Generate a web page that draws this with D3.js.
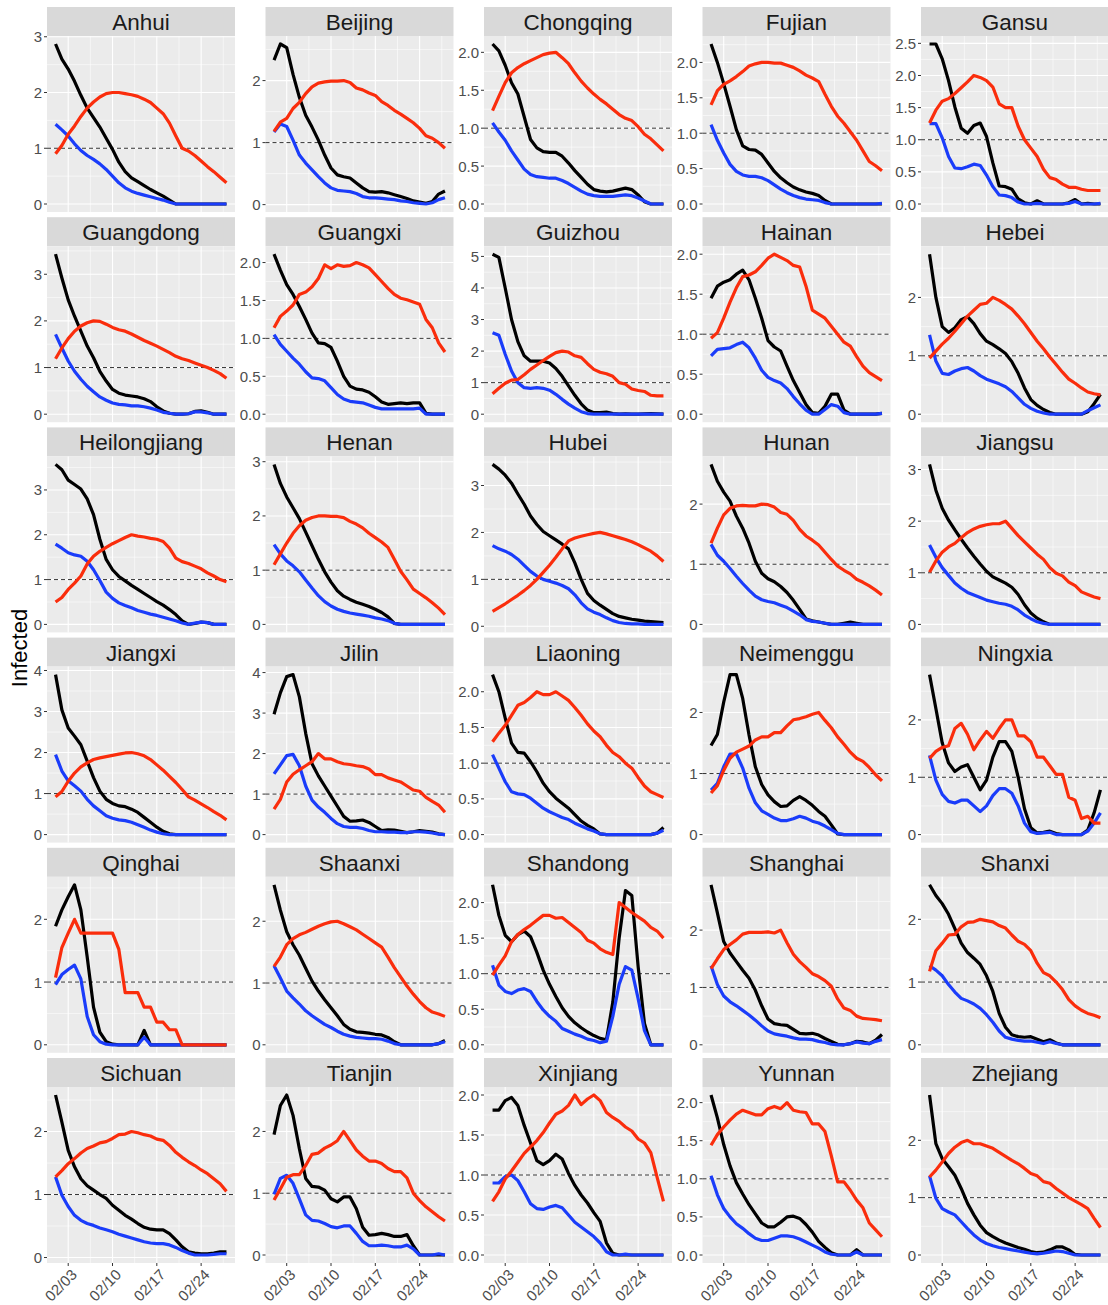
<!DOCTYPE html>
<html lang="en">
<head>
<meta charset="utf-8">
<title>Infected by province, February</title>
<script src="https://cdn.jsdelivr.net/npm/d3@7"></script>
<style>
  body { margin: 0; background: #fff; }
  svg text { font-family: "Liberation Sans", Arial, sans-serif; }
</style>
</head>
<body>
<script>
// days of the series (2020)
var days = ["02/01","02/02","02/03","02/04","02/05","02/06","02/07","02/08","02/09","02/10",
            "02/11","02/12","02/13","02/14","02/15","02/16","02/17","02/18","02/19","02/20",
            "02/21","02/22","02/23","02/24","02/25","02/26","02/27","02/28"];
var tickDays = ["02/03","02/10","02/17","02/24"];

var provinces = ["Anhui","Beijing","Chongqing","Fujian","Gansu",
                 "Guangdong","Guangxi","Guizhou","Hainan","Hebei",
                 "Heilongjiang","Henan","Hubei","Hunan","Jiangsu",
                 "Jiangxi","Jilin","Liaoning","Neimenggu","Ningxia",
                 "Qinghai","Shaanxi","Shandong","Shanghai","Shanxi",
                 "Sichuan","Tianjin","Xinjiang","Yunnan","Zhejiang"];

// y break step of each panel
var yStep = [1,1,0.5,0.5,0.5,
             1,0.5,1,0.5,1,
             1,1,1,1,1,
             1,1,0.5,1,1,
             1,1,0.5,1,1,
             1,1,0.5,0.5,1];

// black series, one row per province (same order)
var black = [
  [2.87,2.6,2.42,2.2,1.95,1.72,1.55,1.38,1.18,0.98,0.75,0.58,0.47,0.4,0.33,0.26,0.2,0.14,0.07,0,0,0,0,0,0,0,0,0], // Anhui
  [2.33,2.59,2.53,2.1,1.73,1.44,1.25,1.04,0.8,0.59,0.48,0.45,0.43,0.35,0.27,0.21,0.2,0.21,0.19,0.16,0.13,0.1,0.06,0.04,0.02,0.05,0.17,0.22], // Beijing
  [2.11,2.02,1.83,1.6,1.45,1.15,0.85,0.74,0.69,0.68,0.68,0.63,0.54,0.44,0.35,0.26,0.19,0.17,0.16,0.17,0.19,0.21,0.19,0.12,0.03,0,0,0], // Chongqing
  [2.26,2.0,1.7,1.38,1.05,0.82,0.77,0.76,0.7,0.58,0.46,0.37,0.3,0.24,0.2,0.17,0.15,0.12,0.05,0,0,0,0,0,0,0,0,0], // Fujian
  [2.49,2.49,2.26,1.92,1.51,1.18,1.1,1.22,1.26,1.05,0.64,0.28,0.27,0.23,0.08,0.02,0,0.05,0,0,0,0,0.02,0.07,0,0.01,0,0], // Gansu
  [3.43,2.92,2.45,2.1,1.78,1.46,1.21,0.92,0.71,0.53,0.45,0.41,0.39,0.37,0.33,0.27,0.16,0.07,0.02,0,0,0.01,0.06,0.07,0.04,0,0,0], // Guangdong
  [2.11,1.9,1.71,1.58,1.42,1.25,1.07,0.94,0.93,0.88,0.7,0.5,0.37,0.33,0.32,0.29,0.23,0.16,0.13,0.14,0.15,0.14,0.15,0.15,0.01,0,0,0], // Guangxi
  [5.07,4.97,4.0,3.0,2.3,1.85,1.68,1.68,1.68,1.62,1.45,1.2,0.9,0.6,0.33,0.13,0.05,0.05,0.07,0.02,0,0.01,0,0,0.01,0.02,0.01,0], // Guizhou
  [1.45,1.6,1.65,1.68,1.75,1.8,1.68,1.45,1.2,0.92,0.84,0.79,0.6,0.42,0.27,0.12,0.02,0.01,0.1,0.25,0.25,0.05,0,0,0,0,0,0.01], // Hainan
  [2.74,2.0,1.5,1.4,1.48,1.62,1.67,1.55,1.38,1.25,1.19,1.12,1.04,0.9,0.7,0.45,0.25,0.15,0.08,0.03,0,0,0,0,0,0.04,0.18,0.34], // Hebei
  [3.57,3.45,3.22,3.12,3.02,2.8,2.45,1.9,1.45,1.22,1.07,0.97,0.87,0.78,0.69,0.6,0.51,0.43,0.33,0.22,0.08,0,0.02,0.05,0.04,0,0,0], // Heilongjiang
  [2.95,2.6,2.35,2.15,1.95,1.7,1.45,1.2,0.97,0.78,0.62,0.52,0.46,0.41,0.37,0.33,0.28,0.22,0.14,0.02,0,0,0,0,0,0,0,0], // Henan
  [3.45,3.35,3.22,3.05,2.82,2.6,2.35,2.17,2.02,1.93,1.84,1.75,1.65,1.35,1.0,0.7,0.55,0.45,0.36,0.27,0.21,0.18,0.15,0.13,0.11,0.1,0.09,0.08], // Hubei
  [2.66,2.38,2.2,2.05,1.8,1.6,1.35,1.05,0.85,0.76,0.71,0.63,0.53,0.4,0.25,0.09,0.06,0.04,0.02,0,0,0.02,0.04,0.02,0,0,0,0], // Hunan
  [3.1,2.6,2.25,2.02,1.83,1.65,1.48,1.32,1.17,1.03,0.92,0.86,0.8,0.72,0.58,0.38,0.22,0.12,0.05,0,0,0,0,0,0,0,0,0], // Jiangsu
  [3.9,3.04,2.6,2.4,2.19,1.79,1.39,1.06,0.86,0.76,0.7,0.68,0.62,0.54,0.42,0.3,0.18,0.08,0.02,0,0,0,0,0,0,0,0,0], // Jiangxi
  [2.97,3.5,3.9,3.95,3.4,2.5,1.75,1.45,1.2,0.95,0.7,0.45,0.33,0.34,0.36,0.3,0.2,0.1,0.12,0.11,0.08,0.05,0.07,0.1,0.08,0.06,0.02,0], // Jilin
  [2.24,2.0,1.63,1.28,1.15,1.14,1.02,0.88,0.72,0.6,0.51,0.44,0.37,0.28,0.19,0.13,0.08,0.01,0,0,0,0,0,0,0,0,0.02,0.1], // Liaoning
  [1.46,1.64,2.17,2.62,2.62,2.23,1.63,1.11,0.82,0.65,0.54,0.46,0.47,0.56,0.62,0.56,0.48,0.38,0.3,0.16,0.01,0,0,0,0,0,0,0], // Neimenggu
  [2.79,2.2,1.6,1.25,1.1,1.18,1.22,1.0,0.78,0.95,1.35,1.62,1.62,1.45,1.0,0.45,0.12,0.03,0.04,0.06,0.02,0,0,0,0,0.08,0.38,0.78], // Ningxia
  [1.89,2.15,2.36,2.55,2.15,1.4,0.6,0.2,0.05,0.01,0,0,0,0,0.23,0,0,0,0,0,0,0,0,0,0,0,0,0], // Qinghai
  [2.59,2.18,1.83,1.62,1.45,1.24,1.03,0.87,0.73,0.6,0.47,0.33,0.25,0.21,0.2,0.19,0.17,0.16,0.12,0.05,0,0,0,0,0,0,0.02,0.07], // Shaanxi
  [2.25,1.82,1.54,1.45,1.55,1.6,1.52,1.3,1.05,0.85,0.68,0.52,0.4,0.31,0.24,0.18,0.13,0.09,0.07,0.6,1.5,2.17,2.1,1.1,0.3,0,0,0], // Shandong
  [2.79,2.3,1.8,1.6,1.45,1.3,1.16,0.95,0.68,0.45,0.37,0.35,0.34,0.27,0.2,0.19,0.2,0.17,0.11,0.06,0.01,0,0.02,0.06,0.05,0.02,0.08,0.18], // Shanghai
  [2.55,2.38,2.25,2.08,1.85,1.62,1.47,1.38,1.28,1.1,0.85,0.5,0.28,0.16,0.13,0.12,0.13,0.09,0.05,0.08,0.03,0,0,0,0,0,0,0], // Shanxi
  [2.58,2.15,1.7,1.44,1.25,1.14,1.07,1.0,0.94,0.83,0.75,0.67,0.61,0.54,0.48,0.45,0.44,0.44,0.38,0.28,0.17,0.09,0.07,0.06,0.06,0.07,0.09,0.09], // Sichuan
  [1.95,2.42,2.59,2.26,1.72,1.24,1.11,1.1,1.05,0.91,0.86,0.94,0.94,0.75,0.45,0.32,0.33,0.35,0.33,0.3,0.3,0.33,0.15,0,0,0,0,0], // Tianjin
  [1.81,1.81,1.93,1.97,1.87,1.62,1.4,1.18,1.13,1.18,1.26,1.2,1.02,0.87,0.75,0.65,0.53,0.42,0.15,0.02,0,0,0,0,0,0,0,0], // Xinjiang
  [2.1,1.8,1.45,1.17,0.95,0.8,0.66,0.54,0.42,0.37,0.37,0.43,0.5,0.51,0.48,0.4,0.3,0.18,0.1,0.03,0,0,0,0.07,0,0,0,0], // Yunnan
  [2.79,1.94,1.68,1.54,1.39,1.16,0.9,0.7,0.52,0.39,0.32,0.26,0.21,0.17,0.13,0.1,0.06,0.04,0.05,0.09,0.14,0.14,0.09,0.01,0,0,0,0]  // Zhejiang
];

// blue series
var blue = [
  [1.43,1.33,1.22,1.08,0.96,0.87,0.8,0.72,0.62,0.5,0.38,0.29,0.23,0.19,0.16,0.13,0.1,0.07,0.03,0,0,0,0,0,0,0,0,0], // Anhui
  [1.17,1.3,1.26,1.04,0.8,0.67,0.56,0.45,0.35,0.27,0.23,0.22,0.21,0.18,0.13,0.11,0.11,0.1,0.09,0.08,0.06,0.05,0.03,0.02,0.01,0.03,0.08,0.11], // Beijing
  [1.07,0.95,0.84,0.7,0.58,0.46,0.39,0.36,0.35,0.34,0.34,0.31,0.27,0.22,0.17,0.13,0.11,0.1,0.1,0.1,0.11,0.12,0.11,0.08,0.04,0,0,0], // Chongqing
  [1.12,0.9,0.72,0.56,0.46,0.41,0.39,0.39,0.37,0.33,0.27,0.21,0.16,0.12,0.09,0.07,0.06,0.05,0.02,0,0,0,0,0,0,0,0,0.01], // Fujian
  [1.25,1.25,1.03,0.74,0.56,0.55,0.58,0.62,0.6,0.45,0.27,0.14,0.13,0.1,0.03,0,0,0.01,0,0,0,0,0.01,0.04,0,0,0,0.01], // Gansu
  [1.71,1.42,1.14,0.92,0.75,0.6,0.48,0.37,0.3,0.24,0.21,0.2,0.18,0.18,0.16,0.13,0.09,0.04,0.02,0,0,0.01,0.05,0.05,0.03,0,0,0], // Guangdong
  [1.05,0.92,0.83,0.74,0.66,0.56,0.48,0.47,0.44,0.35,0.26,0.2,0.17,0.16,0.15,0.12,0.09,0.07,0.07,0.07,0.07,0.07,0.07,0.08,0,0,0,0], // Guangxi
  [2.58,2.5,1.9,1.37,1.0,0.84,0.82,0.84,0.82,0.76,0.63,0.47,0.32,0.19,0.08,0.02,0,0,0,0,0,0,0,0,0,0,0,0], // Guizhou
  [0.73,0.81,0.82,0.83,0.87,0.9,0.83,0.7,0.55,0.46,0.42,0.39,0.32,0.22,0.13,0.05,0,0,0.06,0.12,0.1,0.02,0,0,0,0,0,0.01], // Hainan
  [1.36,0.91,0.7,0.68,0.74,0.78,0.8,0.74,0.66,0.6,0.56,0.52,0.47,0.39,0.28,0.17,0.1,0.05,0.02,0,0,0,0,0,0,0.06,0.11,0.16], // Hebei
  [1.79,1.7,1.6,1.55,1.52,1.41,1.22,0.98,0.72,0.58,0.48,0.42,0.37,0.31,0.27,0.23,0.2,0.16,0.12,0.08,0.03,0,0.03,0.05,0.04,0,0,0], // Heilongjiang
  [1.47,1.3,1.17,1.08,0.97,0.82,0.67,0.53,0.42,0.34,0.28,0.24,0.21,0.19,0.17,0.15,0.12,0.1,0.07,0.02,0,0,0,0,0,0,0,0], // Henan
  [1.72,1.65,1.6,1.53,1.43,1.3,1.17,1.07,1.0,0.96,0.92,0.87,0.8,0.67,0.5,0.37,0.3,0.25,0.18,0.12,0.08,0.06,0.05,0.05,0.04,0.04,0.04,0.04], // Hubei
  [1.33,1.15,1.05,0.93,0.8,0.68,0.57,0.47,0.41,0.38,0.36,0.32,0.28,0.22,0.16,0.08,0.05,0.04,0.02,0,0,0,0,0,0,0,0,0], // Hunan
  [1.54,1.3,1.1,0.95,0.8,0.7,0.62,0.57,0.52,0.47,0.44,0.41,0.39,0.35,0.28,0.18,0.11,0.05,0.02,0,0,0,0,0,0,0,0,0], // Jiangsu
  [1.95,1.55,1.31,1.19,1.06,0.86,0.7,0.58,0.46,0.4,0.36,0.34,0.3,0.24,0.18,0.11,0.06,0.02,0,0,0,0,0,0,0,0,0,0], // Jiangxi
  [1.5,1.72,1.95,1.98,1.7,1.2,0.85,0.68,0.55,0.4,0.27,0.2,0.18,0.18,0.15,0.1,0.07,0.07,0.06,0.06,0.05,0.05,0.07,0.07,0.06,0.04,0.01,0], // Jilin
  [1.12,0.93,0.74,0.6,0.57,0.56,0.51,0.44,0.37,0.32,0.28,0.24,0.21,0.16,0.12,0.08,0.05,0.01,0,0,0,0,0,0,0,0,0.02,0.06], // Liaoning
  [0.73,0.84,1.11,1.32,1.32,1.09,0.76,0.52,0.39,0.33,0.27,0.23,0.23,0.26,0.3,0.27,0.22,0.19,0.14,0.08,0.02,0,0,0,0,0,0,0], // Neimenggu
  [1.38,0.95,0.7,0.58,0.55,0.6,0.6,0.5,0.4,0.5,0.68,0.8,0.8,0.72,0.5,0.2,0.05,0.02,0.03,0.04,0,0,0,0,0,0.06,0.2,0.38], // Ningxia
  [0.96,1.12,1.2,1.27,1.05,0.45,0.16,0.05,0.01,0,0,0,0,0,0.12,0,0,0,0,0,0,0,0,0,0,0,0,0], // Qinghai
  [1.28,1.08,0.87,0.76,0.66,0.55,0.47,0.4,0.33,0.28,0.22,0.17,0.14,0.12,0.11,0.1,0.1,0.09,0.06,0.02,0,0,0,0,0,0,0.02,0.05], // Shaanxi
  [1.12,0.84,0.75,0.72,0.77,0.79,0.75,0.61,0.49,0.4,0.33,0.23,0.19,0.15,0.12,0.08,0.06,0.03,0.05,0.4,0.85,1.1,1.05,0.65,0.2,0,0,0], // Shandong
  [1.38,1.05,0.85,0.75,0.68,0.6,0.52,0.43,0.33,0.24,0.19,0.17,0.15,0.12,0.1,0.1,0.09,0.06,0.04,0.01,0,0,0.02,0.05,0.03,0.02,0.06,0.09], // Shanghai
  [1.26,1.19,1.1,0.96,0.84,0.74,0.7,0.65,0.58,0.48,0.36,0.22,0.12,0.09,0.07,0.06,0.06,0.04,0.02,0.05,0.02,0,0,0,0,0,0,0], // Shanxi
  [1.28,0.99,0.81,0.67,0.59,0.54,0.51,0.47,0.44,0.41,0.37,0.34,0.31,0.28,0.25,0.23,0.22,0.22,0.2,0.16,0.11,0.07,0.04,0.04,0.04,0.05,0.06,0.06], // Sichuan
  [0.98,1.24,1.29,1.16,0.91,0.65,0.56,0.55,0.51,0.46,0.44,0.47,0.47,0.35,0.22,0.15,0.15,0.16,0.15,0.13,0.13,0.16,0.1,0,0,0,0.02,0], // Tianjin
  [0.9,0.9,0.98,1.0,0.93,0.79,0.64,0.58,0.57,0.6,0.62,0.59,0.5,0.41,0.35,0.29,0.23,0.15,0.04,0,0,0.01,0,0,0,0,0,0], // Xinjiang
  [1.04,0.79,0.61,0.5,0.41,0.35,0.28,0.22,0.19,0.19,0.22,0.25,0.25,0.24,0.21,0.17,0.13,0.09,0.04,0.01,0,0,0,0.04,0,0,0,0], // Yunnan
  [1.38,0.99,0.81,0.75,0.7,0.58,0.46,0.35,0.26,0.2,0.16,0.13,0.11,0.09,0.07,0.05,0.03,0.02,0.03,0.05,0.07,0.06,0.03,0,0,0,0,0]  // Zhejiang
];

// red series
var red = [
  [0.9,1.05,1.25,1.4,1.57,1.72,1.83,1.92,1.98,2.0,2.0,1.98,1.96,1.93,1.88,1.82,1.72,1.62,1.45,1.22,1.0,0.95,0.87,0.77,0.67,0.58,0.48,0.38], // Anhui
  [1.18,1.33,1.39,1.55,1.65,1.79,1.9,1.96,1.98,1.99,1.99,2.0,1.97,1.88,1.85,1.8,1.76,1.66,1.6,1.52,1.46,1.39,1.32,1.23,1.11,1.07,1.0,0.91], // Beijing
  [1.23,1.42,1.6,1.73,1.8,1.85,1.89,1.93,1.97,1.99,2.0,1.93,1.85,1.73,1.62,1.53,1.45,1.38,1.32,1.25,1.18,1.13,1.1,1.02,0.92,0.86,0.78,0.7], // Chongqing
  [1.4,1.6,1.69,1.74,1.8,1.87,1.95,1.98,2.0,2.0,1.99,1.99,1.96,1.93,1.88,1.82,1.78,1.73,1.55,1.38,1.24,1.14,1.02,0.9,0.75,0.6,0.54,0.47], // Fujian
  [1.26,1.46,1.6,1.64,1.72,1.81,1.9,2.0,1.97,1.92,1.82,1.56,1.5,1.5,1.21,1.0,0.87,0.74,0.54,0.41,0.38,0.31,0.26,0.26,0.23,0.21,0.21,0.21], // Gansu
  [1.19,1.42,1.62,1.78,1.89,1.96,2.0,1.99,1.93,1.86,1.81,1.78,1.72,1.65,1.58,1.52,1.46,1.39,1.32,1.24,1.19,1.15,1.1,1.05,1.0,0.94,0.87,0.77], // Guangdong
  [1.14,1.29,1.36,1.44,1.58,1.61,1.68,1.79,1.97,1.92,1.97,1.95,1.96,2.0,1.97,1.93,1.84,1.75,1.66,1.58,1.53,1.51,1.48,1.45,1.25,1.14,0.94,0.82], // Guangxi
  [0.65,0.82,0.98,1.08,1.1,1.25,1.42,1.56,1.7,1.83,1.95,2.0,1.97,1.85,1.8,1.6,1.42,1.33,1.28,1.2,1.0,0.95,0.8,0.75,0.72,0.6,0.58,0.58], // Guizhou
  [0.95,1.02,1.2,1.4,1.58,1.72,1.74,1.78,1.86,1.95,2.0,1.96,1.92,1.86,1.84,1.6,1.3,1.25,1.2,1.1,1.0,0.9,0.85,0.72,0.6,0.52,0.47,0.42], // Hainan
  [0.96,1.08,1.2,1.3,1.42,1.55,1.68,1.78,1.88,1.9,2.0,1.95,1.88,1.8,1.68,1.55,1.4,1.25,1.12,0.98,0.85,0.72,0.6,0.53,0.45,0.38,0.35,0.33], // Hebei
  [0.5,0.6,0.78,0.92,1.08,1.35,1.52,1.63,1.72,1.8,1.87,1.94,2.0,1.97,1.95,1.92,1.9,1.85,1.7,1.48,1.4,1.36,1.3,1.24,1.15,1.08,1.0,0.95], // Heilongjiang
  [1.1,1.3,1.5,1.68,1.82,1.92,1.97,2.0,2.0,1.99,1.99,1.97,1.9,1.85,1.78,1.68,1.6,1.52,1.42,1.2,0.98,0.82,0.65,0.57,0.49,0.4,0.3,0.18], // Henan
  [0.32,0.4,0.48,0.57,0.66,0.76,0.87,1.0,1.15,1.3,1.47,1.65,1.82,1.88,1.92,1.95,1.98,2.0,1.97,1.93,1.89,1.85,1.8,1.74,1.67,1.6,1.5,1.38], // Hubei
  [1.35,1.6,1.82,1.93,1.97,1.98,1.97,1.97,2.0,1.99,1.95,1.86,1.83,1.73,1.58,1.47,1.4,1.32,1.2,1.08,0.97,0.9,0.84,0.75,0.7,0.64,0.57,0.49], // Hunan
  [1.01,1.23,1.4,1.5,1.57,1.68,1.78,1.85,1.9,1.93,1.95,1.95,2.0,1.86,1.72,1.6,1.48,1.36,1.26,1.1,0.99,0.94,0.82,0.75,0.63,0.58,0.53,0.5], // Jiangsu
  [0.92,1.05,1.3,1.5,1.65,1.75,1.83,1.87,1.9,1.93,1.96,1.99,2.0,1.97,1.92,1.83,1.7,1.57,1.42,1.27,1.1,0.92,0.84,0.75,0.66,0.56,0.47,0.36], // Jiangxi
  [0.63,0.87,1.3,1.49,1.6,1.7,1.8,2.0,1.87,1.87,1.8,1.75,1.73,1.7,1.68,1.62,1.48,1.48,1.4,1.35,1.3,1.2,1.1,1.07,0.92,0.82,0.73,0.55], // Jilin
  [1.3,1.42,1.53,1.67,1.81,1.85,1.92,2.0,1.96,1.96,2.0,1.94,1.88,1.78,1.67,1.55,1.45,1.37,1.25,1.15,1.09,1.0,0.93,0.8,0.68,0.6,0.56,0.52], // Liaoning
  [0.68,0.8,1.05,1.25,1.35,1.4,1.45,1.55,1.6,1.6,1.67,1.67,1.78,1.88,1.9,1.93,1.97,2.0,1.87,1.75,1.6,1.48,1.35,1.25,1.2,1.1,0.98,0.88], // Neimenggu
  [1.33,1.45,1.52,1.55,1.85,1.94,1.75,1.48,1.65,1.8,1.68,1.85,2.0,2.0,1.72,1.72,1.62,1.35,1.35,1.2,1.05,1.05,0.65,0.6,0.28,0.32,0.2,0.2], // Ningxia
  [1.07,1.55,1.78,2.0,1.78,1.78,1.78,1.78,1.78,1.78,1.52,0.83,0.83,0.83,0.6,0.6,0.36,0.36,0.24,0.24,0,0,0,0,0,0,0,0], // Qinghai
  [1.27,1.42,1.62,1.72,1.78,1.82,1.87,1.92,1.96,1.99,2.0,1.96,1.91,1.86,1.79,1.72,1.65,1.58,1.42,1.25,1.1,0.95,0.82,0.7,0.6,0.53,0.5,0.46], // Shaanxi
  [0.98,1.12,1.25,1.45,1.55,1.62,1.68,1.75,1.82,1.82,1.78,1.79,1.72,1.65,1.58,1.47,1.43,1.35,1.3,1.27,2.0,1.93,1.86,1.8,1.74,1.65,1.6,1.5], // Shandong
  [1.33,1.5,1.66,1.75,1.83,1.93,1.96,1.96,1.96,1.97,1.95,2.0,1.78,1.58,1.45,1.35,1.24,1.19,1.12,1.02,0.8,0.64,0.6,0.5,0.46,0.45,0.44,0.42], // Shanghai
  [1.17,1.5,1.62,1.75,1.76,1.88,1.95,1.96,2.0,1.98,1.96,1.9,1.86,1.75,1.65,1.6,1.5,1.3,1.15,1.1,1.0,0.88,0.72,0.62,0.55,0.5,0.47,0.43], // Shanxi
  [1.28,1.38,1.49,1.57,1.66,1.73,1.77,1.82,1.84,1.89,1.95,1.96,2.0,1.98,1.95,1.93,1.88,1.86,1.78,1.67,1.59,1.52,1.46,1.39,1.33,1.25,1.17,1.05], // Sichuan
  [0.89,1.07,1.26,1.3,1.3,1.45,1.63,1.65,1.73,1.78,1.85,2.0,1.85,1.7,1.6,1.52,1.52,1.48,1.4,1.35,1.35,1.25,1.0,0.88,0.78,0.7,0.62,0.55], // Tianjin
  [0.67,0.79,0.95,1.05,1.16,1.27,1.35,1.43,1.53,1.65,1.76,1.8,1.87,2.0,1.88,1.95,2.0,1.93,1.78,1.72,1.67,1.6,1.55,1.45,1.4,1.28,0.97,0.67], // Xinjiang
  [1.44,1.58,1.68,1.77,1.85,1.9,1.87,1.84,1.84,1.92,1.95,1.92,2.0,1.9,1.88,1.87,1.72,1.72,1.62,1.3,0.96,0.96,0.85,0.72,0.62,0.42,0.33,0.24], // Yunnan
  [1.36,1.48,1.62,1.77,1.88,1.96,2.0,1.94,1.94,1.9,1.86,1.79,1.72,1.65,1.59,1.51,1.42,1.38,1.28,1.25,1.16,1.08,1.0,0.94,0.88,0.81,0.64,0.48]  // Zhejiang
];

var W = 1108, H = 1305;
var panelW = 188, stripH = 29, plotH = 176;
var colX = 47, colGap = 218.5, rowY = 7, rowGap = 210.2;

var parse = d3.utcParse("%Y/%m/%d");
var dates = days.map(function(d) { return parse("2020/" + d); });
var ticks = tickDays.map(function(d) { return parse("2020/" + d); });
var t0 = +dates[0], t1 = +dates[dates.length - 1], span = t1 - t0;

var x = d3.scaleUtc()
  .domain([t0 - span * 0.05, t1 + span * 0.05])
  .range([0, panelW]);

// minor x grid half way between the major breaks
var tStep = ticks[1] - ticks[0];
var xMinor = [];
for (var k = -1; k < ticks.length; k++) {
  var m = +ticks[0] + (k + 0.5) * tStep;
  if (m > x.domain()[0] && m < x.domain()[1]) xMinor.push(m);
}

var svg = d3.select("body").append("svg")
  .attr("width", W)
  .attr("height", H);

var line = d3.line()
  .x(function(d, j) { return x(dates[j]); });

provinces.forEach(function(name, i) {
  var col = i % 5, row = Math.floor(i / 5);
  var g = svg.append("g")
    .attr("transform", "translate(" + (colX + col * colGap) + "," + (rowY + row * rowGap) + ")");

  // strip
  g.append("rect")
    .attr("width", panelW).attr("height", stripH)
    .attr("fill", "#d9d9d9");
  g.append("text")
    .attr("x", panelW / 2).attr("y", stripH / 2 + 1)
    .attr("text-anchor", "middle")
    .attr("dominant-baseline", "central")
    .attr("font-size", "22.5px")
    .attr("fill", "#1a1a1a")
    .text(name);

  var p = g.append("g").attr("transform", "translate(0," + stripH + ")");
  p.append("rect")
    .attr("width", panelW).attr("height", plotH)
    .attr("fill", "#ebebeb");

  var all = black[i].concat(blue[i], red[i], [1]);
  var lo = d3.min(all), hi = d3.max(all), pad = (hi - lo) * 0.05;
  var y = d3.scaleLinear().domain([lo - pad, hi + pad]).range([plotH, 0]);

  var step = yStep[i];
  var kMin = Math.ceil((lo - pad) / step - 1e-9), kMax = Math.floor((hi + pad) / step + 1e-9);
  var yMajor = d3.range(kMin, kMax + 1).map(function(k) { return k * step; });
  var yMinor = d3.range(kMin - 1, kMax + 1).map(function(k) { return (k + 0.5) * step; })
    .filter(function(v) { return v > lo - pad && v < hi + pad; });
  var fmt = step < 1 ? d3.format(".1f") : d3.format("d");

  // grid
  p.selectAll(".ymin").data(yMinor).enter().append("line")
    .attr("x1", 0).attr("x2", panelW)
    .attr("y1", function(d) { return y(d); }).attr("y2", function(d) { return y(d); })
    .attr("stroke", "#fff").attr("stroke-width", 0.55);
  p.selectAll(".xmin").data(xMinor).enter().append("line")
    .attr("x1", function(d) { return x(d); }).attr("x2", function(d) { return x(d); })
    .attr("y1", 0).attr("y2", plotH)
    .attr("stroke", "#fff").attr("stroke-width", 0.55);
  p.selectAll(".ymaj").data(yMajor).enter().append("line")
    .attr("x1", 0).attr("x2", panelW)
    .attr("y1", function(d) { return y(d); }).attr("y2", function(d) { return y(d); })
    .attr("stroke", "#fff").attr("stroke-width", 1.1);
  p.selectAll(".xmaj").data(ticks).enter().append("line")
    .attr("x1", function(d) { return x(d); }).attr("x2", function(d) { return x(d); })
    .attr("y1", 0).attr("y2", plotH)
    .attr("stroke", "#fff").attr("stroke-width", 1.1);

  // y axis
  p.selectAll(".ytick").data(yMajor).enter().append("line")
    .attr("x1", -3).attr("x2", 0)
    .attr("y1", function(d) { return y(d); }).attr("y2", function(d) { return y(d); })
    .attr("stroke", "#333").attr("stroke-width", 1);
  p.selectAll(".ylab").data(yMajor).enter().append("text")
    .attr("x", -5)
    .attr("y", function(d) { return y(d); })
    .attr("text-anchor", "end")
    .attr("dominant-baseline", "central")
    .attr("font-size", "15px")
    .attr("fill", "#4d4d4d")
    .text(fmt);

  // reference line at 1
  p.append("line")
    .attr("x1", 0).attr("x2", panelW)
    .attr("y1", y(1)).attr("y2", y(1))
    .attr("stroke", "#333").attr("stroke-width", 1)
    .attr("stroke-dasharray", "4,3");

  line.y(function(d) { return y(d); });
  [[black[i], "#000000"], [blue[i], "#1a3cfa"], [red[i], "#fa2d0c"]].forEach(function(s) {
    p.append("path")
      .attr("d", line(s[0]))
      .attr("fill", "none")
      .attr("stroke", s[1])
      .attr("stroke-width", 3.2)
      .attr("stroke-linejoin", "round");
  });

  // x axis only on the bottom row
  if (row === 5) {
    p.selectAll(".xtick").data(ticks).enter().append("line")
      .attr("x1", function(d) { return x(d); }).attr("x2", function(d) { return x(d); })
      .attr("y1", plotH).attr("y2", plotH + 3)
      .attr("stroke", "#333").attr("stroke-width", 1);
    p.selectAll(".xlab").data(ticks).enter().append("text")
      .attr("transform", function(d) { return "translate(" + (x(d) + 2) + "," + (plotH + 5) + ") rotate(-45)"; })
      .attr("text-anchor", "end")
      .attr("dy", "0.72em")
      .attr("font-size", "15px")
      .attr("fill", "#4d4d4d")
      .text(function(d, j) { return tickDays[j]; });
  }
});

svg.append("text")
  .attr("transform", "translate(27,648) rotate(-90)")
  .attr("text-anchor", "middle")
  .attr("font-size", "22px")
  .attr("fill", "#000")
  .text("Infected");
</script>
</body>
</html>
